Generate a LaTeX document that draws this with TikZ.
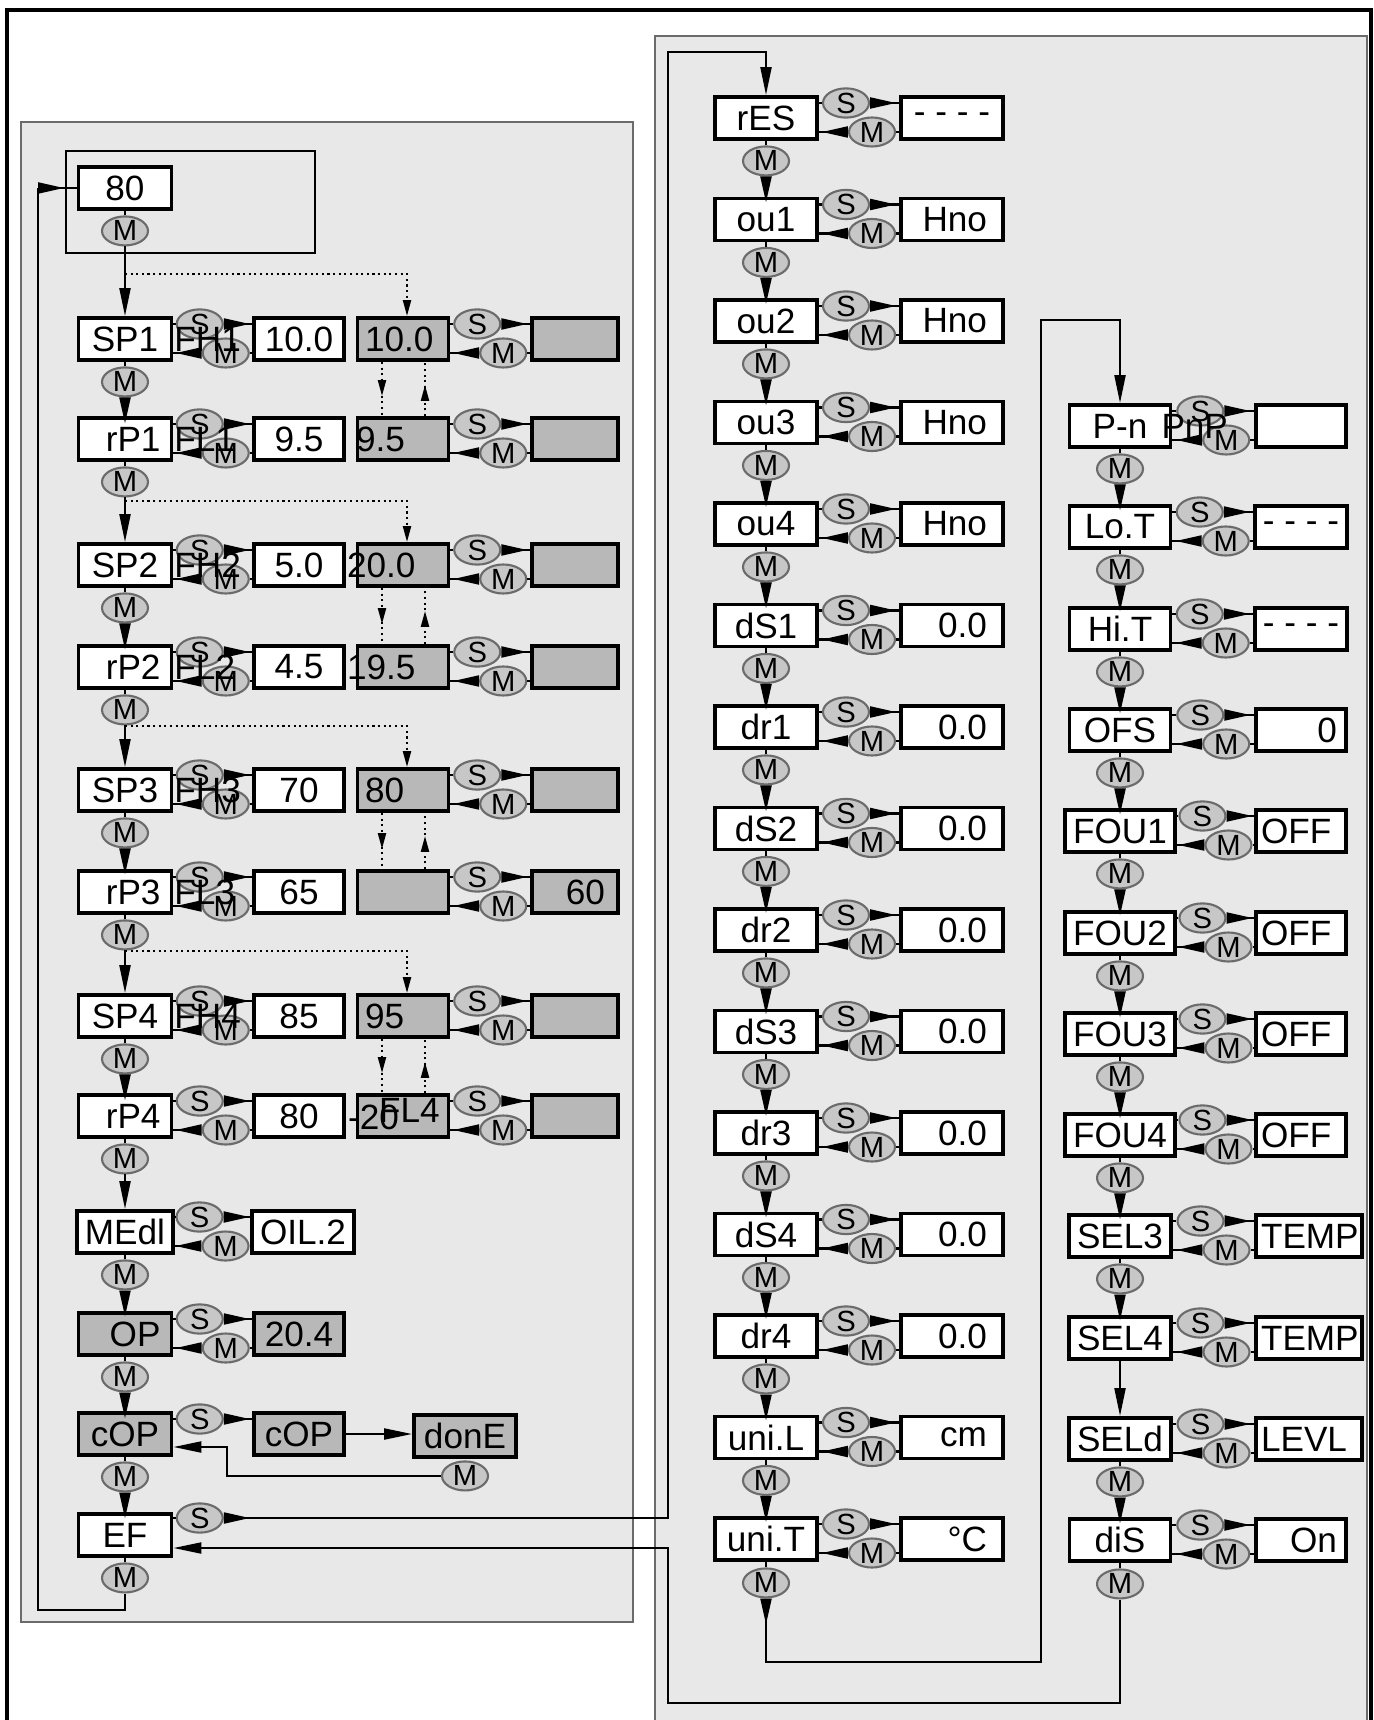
\documentclass[tikz,border=0pt]{standalone}
\usepackage{fontspec}
\setmainfont{Liberation Sans}
\usetikzlibrary{arrows.meta,calc,shapes.geometric}

\definecolor{panel}{gray}{0.91}
\definecolor{shade}{gray}{0.72}
\definecolor{knob}{gray}{0.78}
\definecolor{rim}{gray}{0.42}

\tikzset{
  box/.style={draw, line width=1.1pt, fill=white, minimum height=4.2mm, inner ysep=0.5mm,
    inner xsep=0.8mm, font=\fontsize{10}{11}\selectfont},
  txt/.style={inner sep=0pt, font=\fontsize{10}{11}\selectfont},
  pbox/.style={box, minimum width=9.3mm},
  rlab/.style={text width=7.1mm, align=right, inner xsep=1.1mm},
  lval/.style={box, minimum width=9mm},
  ga/.style={box, fill=shade, minimum width=9.1mm},
  gb/.style={box, fill=shade, minimum width=8.6mm},
  abox/.style={box, minimum width=10.2mm},
  aval/.style={box, text width=7mm, align=right, inner xsep=1.6mm},
  bbox/.style={box, minimum width=10.1mm},
  bval/.style={box, minimum width=9mm},
  bl/.style={box, text width=8mm, align=left, inner xsep=0.5mm},
  br/.style={box, text width=7.2mm, align=right, inner xsep=0.9mm},
  btn/.style={ellipse, draw=rim, line width=0.6pt, fill=knob, minimum width=4.6mm,
    minimum height=2.9mm, inner sep=0pt, font=\fontsize{8.3}{9}\selectfont},
  flow/.style={-{Triangle[length=2.8mm,width=1.1mm]}},
  lead/.style={{Triangle[reversed,length=2.6mm,width=1.1mm]}-},
  leadflow/.style={{Triangle[reversed,length=2.6mm,width=1.1mm]}-{Triangle[length=2.8mm,width=1.1mm]}},
  dflow/.style={densely dotted, -{Triangle[length=1.6mm,width=0.8mm]}},
}

\newcommand{\smpair}[2]{%
  \coordinate (#1-c) at ($(#1.east)!0.5!(#2.west)$);
  \node[btn] (#1-s) at ($(#1-c)+(-13,-15)$) {S};
  \node[btn] (#1-m) at ($(#1-c)+(13,14)$) {M};
  \draw (#1.east |- #1-s) -- (#1-s.west);
  \draw[lead] (#1-s.east) -- (#2.west |- #1-s);
  \draw (#2.west |- #1-m) -- (#1-m.east);
  \draw[lead] (#1-m.west) -- (#1.east |- #1-m);
}
\newcommand{\mstep}[3][lead]{%
  \node[btn] (#2-d) at ($(#2.south)+(0,20)$) {M};
  \draw (#2.south) -- (#2-d.north);
  \draw[#1] (#2-d.south) -- (#2-d.south |- #3.north);
}
\newcommand{\hold}[2]{%
  \draw[densely dotted] ($(#1.south)+(-21,0)$) -- ($(#2.north)+(-21,0)$);
  \draw[dflow, shorten >=2mm] ($(#1.south)+(-21,0)$) -- ($(#2.north)+(-21,0)$);
  \draw[densely dotted] ($(#2.north)+(22,0)$) -- ($(#1.south)+(22,0)$);
  \draw[dflow, shorten >=2.3mm] ($(#2.north)+(22,0)$) -- ($(#1.south)+(22,0)$);
}

\begin{document}
\begin{tikzpicture}[x=0.1mm, y=-0.1mm, line width=0.6pt]
  \clip (0,0) rectangle (1373,1720);
  \fill[white] (0,0) rectangle (1373,1720);
  \draw[line width=1.3pt] (7,1740) |- (1371,10) -- (1371,1740);
  \filldraw[fill=panel, draw=rim, line width=0.8pt] (21,122) rectangle (633,1622);
  \filldraw[fill=panel, draw=rim, line width=0.8pt] (655,36) rectangle (1367,1740);
  \draw[line width=0.8pt] (66,151) rectangle (315,253);

  \node[pbox] (top) at (125,188) {80};
  \node[pbox] (sp1) at (125,339) {SP1};
  \node[pbox, rlab] (rp1) at (125,439) {rP1};
  \node[pbox] (sp2) at (125,565) {SP2};
  \node[pbox, rlab] (rp2) at (125,667) {rP2};
  \node[pbox] (sp3) at (125,790) {SP3};
  \node[pbox, rlab] (rp3) at (125,892) {rP3};
  \node[pbox] (sp4) at (125,1016) {SP4};
  \node[pbox, rlab] (rp4) at (125,1116) {rP4};
  \node[pbox] (medi) at (125,1232) {MEdl};
  \node[pbox, rlab, fill=shade] (op) at (125,1334) {OP};
  \node[pbox, fill=shade] (cop) at (125,1434) {cOP};
  \node[pbox] (ef) at (125,1535) {EF};

  \node[lval] (sp1v) at (299,339) {10.0};
  \node[lval] (rp1v) at (299,439) {9.5};
  \node[lval] (sp2v) at (299,565) {5.0};
  \node[lval] (rp2v) at (299,667) {4.5};
  \node[lval] (sp3v) at (299,790) {70};
  \node[lval] (rp3v) at (299,892) {65};
  \node[lval] (sp4v) at (299,1016) {85};
  \node[lval] (rp4v) at (299,1116) {80};
  \node[lval, minimum width=9.8mm] (mediv) at (303,1232) {OIL.2};
  \node[lval, fill=shade] (opv) at (299,1334) {20.4};
  \node[lval, fill=shade] (copv) at (299,1434) {cOP};
  \node[box, fill=shade, minimum width=10.2mm] (done) at (465,1436) {donE};

  \node[ga] (sp1a) at (403,339) {};
  \node[ga] (rp1a) at (403,439) {};
  \node[ga] (sp2a) at (403,565) {};
  \node[ga] (rp2a) at (403,667) {};
  \node[ga] (sp3a) at (403,790) {};
  \node[ga] (rp3a) at (403,892) {};
  \node[ga] (sp4a) at (403,1016) {};
  \node[ga] (rp4a) at (403,1116) {};
  \node[gb] (sp1b) at (575,339) {};
  \node[gb] (rp1b) at (575,439) {};
  \node[gb] (sp2b) at (575,565) {};
  \node[gb] (rp2b) at (575,667) {};
  \node[gb] (sp3b) at (575,790) {};
  \node[gb, text width=6mm, align=right] (rp3b) at (575,892) {60};
  \node[gb] (sp4b) at (575,1016) {};
  \node[gb] (rp4b) at (575,1116) {};

  \node[abox] (res) at (766,118) {rES};
  \node[abox] (ou1) at (766,219.5) {ou1};
  \node[abox] (ou2) at (766,321) {ou2};
  \node[abox] (ou3) at (766,422.5) {ou3};
  \node[abox] (ou4) at (766,524) {ou4};
  \node[abox] (ds1) at (766,625.5) {dS1};
  \node[abox] (dr1) at (766,727) {dr1};
  \node[abox] (ds2) at (766,828.5) {dS2};
  \node[abox] (dr2) at (766,930) {dr2};
  \node[abox] (ds3) at (766,1031.5) {dS3};
  \node[abox] (dr3) at (766,1133) {dr3};
  \node[abox] (ds4) at (766,1234.5) {dS4};
  \node[abox] (dr4) at (766,1336) {dr4};
  \node[abox] (unil) at (766,1437.5) {uni.L};
  \node[abox] (unit) at (766,1539) {uni.T};

  \node[abox] (resv) at (952,118) {- - - -};
  \node[aval] (ou1v) at (952,219.5) {Hno};
  \node[aval] (ou2v) at (952,321) {Hno};
  \node[aval] (ou3v) at (952,422.5) {Hno};
  \node[aval] (ou4v) at (952,524) {Hno};
  \node[aval] (ds1v) at (952,625.5) {0.0};
  \node[aval] (dr1v) at (952,727) {0.0};
  \node[aval] (ds2v) at (952,828.5) {0.0};
  \node[aval] (dr2v) at (952,930) {0.0};
  \node[aval] (ds3v) at (952,1031.5) {0.0};
  \node[aval] (dr3v) at (952,1133) {0.0};
  \node[aval] (ds4v) at (952,1234.5) {0.0};
  \node[aval] (dr4v) at (952,1336) {0.0};
  \node[aval] (unilv) at (952,1437.5) {cm};
  \node[aval] (unitv) at (952,1539) {°C};

  \node[bbox] (pn) at (1120,426) {P-n};
  \node[bbox] (lot) at (1120,527) {Lo.T};
  \node[bbox] (hit) at (1120,629) {Hi.T};
  \node[bbox] (ofs) at (1120,730) {OFS};
  \node[bbox] (fou1) at (1120,831) {FOU1};
  \node[bbox] (fou2) at (1120,933) {FOU2};
  \node[bbox] (fou3) at (1120,1034) {FOU3};
  \node[bbox] (fou4) at (1120,1135) {FOU4};
  \node[bbox] (sel3) at (1120,1236) {SEL3};
  \node[bbox] (sel4) at (1120,1338) {SEL4};
  \node[bbox] (seld) at (1120,1439) {SELd};
  \node[bbox] (dis) at (1120,1540) {diS};

  \node[bval] (pnv) at (1301,426) {};
  \node[bval] (lotv) at (1301,527) {- - - -};
  \node[bval] (hitv) at (1301,629) {- - - -};
  \node[br] (ofsv) at (1301,730) {0};
  \node[bl] (fou1v) at (1301,831) {OFF};
  \node[bl] (fou2v) at (1301,933) {OFF};
  \node[bl] (fou3v) at (1301,1034) {OFF};
  \node[bl] (fou4v) at (1301,1135) {OFF};
  \node[bl, text width=9.6mm] (sel3v) at (1309,1236) {TEMP};
  \node[bl, text width=9.6mm] (sel4v) at (1309,1338) {TEMP};
  \node[bl, text width=9.6mm] (seldv) at (1309,1439) {LEVL};
  \node[br] (disv) at (1301,1540) {On};

  \smpair{sp1}{sp1v} \smpair{sp1a}{sp1b}
  \smpair{rp1}{rp1v} \smpair{rp1a}{rp1b}
  \smpair{sp2}{sp2v} \smpair{sp2a}{sp2b}
  \smpair{rp2}{rp2v} \smpair{rp2a}{rp2b}
  \smpair{sp3}{sp3v} \smpair{sp3a}{sp3b}
  \smpair{rp3}{rp3v} \smpair{rp3a}{rp3b}
  \smpair{sp4}{sp4v} \smpair{sp4a}{sp4b}
  \smpair{rp4}{rp4v} \smpair{rp4a}{rp4b}
  \smpair{medi}{mediv}
  \smpair{op}{opv}

  \smpair{res}{resv} \smpair{ou1}{ou1v} \smpair{ou2}{ou2v} \smpair{ou3}{ou3v}
  \smpair{ou4}{ou4v} \smpair{ds1}{ds1v} \smpair{dr1}{dr1v} \smpair{ds2}{ds2v}
  \smpair{dr2}{dr2v} \smpair{ds3}{ds3v} \smpair{dr3}{dr3v} \smpair{ds4}{ds4v}
  \smpair{dr4}{dr4v} \smpair{unil}{unilv} \smpair{unit}{unitv}

  \smpair{pn}{pnv} \smpair{lot}{lotv} \smpair{hit}{hitv} \smpair{ofs}{ofsv}
  \smpair{fou1}{fou1v} \smpair{fou2}{fou2v} \smpair{fou3}{fou3v} \smpair{fou4}{fou4v}
  \smpair{sel3}{sel3v} \smpair{sel4}{sel4v} \smpair{seld}{seldv} \smpair{dis}{disv}

  \mstep[flow]{top}{sp1}
  \mstep{sp1}{rp1}
  \mstep[flow]{rp1}{sp2}
  \mstep{sp2}{rp2}
  \mstep[flow]{rp2}{sp3}
  \mstep{sp3}{rp3}
  \mstep[flow]{rp3}{sp4}
  \mstep{sp4}{rp4}
  \mstep[flow]{rp4}{medi}
  \mstep{medi}{op}
  \mstep{op}{cop}
  \mstep{cop}{ef}

  \draw[dflow] ($(sp1.north)+(0,-42)$) -| ($(sp1a.north)+(4,0)$);
  \draw[dflow] ($(sp2.north)+(0,-41)$) -| ($(sp2a.north)+(4,0)$);
  \draw[dflow] ($(sp3.north)+(0,-41)$) -| ($(sp3a.north)+(4,0)$);
  \draw[dflow] ($(sp4.north)+(0,-42)$) -| ($(sp4a.north)+(4,0)$);
  \hold{sp1a}{rp1a}
  \hold{sp2a}{rp2a}
  \hold{sp3a}{rp3a}
  \hold{sp4a}{rp4a}

  \node[btn] (cop-s) at ($(cop.east)!0.5!(copv.west)+(-13,-15)$) {S};
  \draw (cop.east |- cop-s) -- (cop-s.west);
  \draw[lead] (cop-s.east) -- (copv.west |- cop-s);
  \draw[flow] (copv.east) -- (done.west |- copv.east);
  \node[btn] (done-d) at ($(done.south)+(0,17)$) {M};
  \coordinate (turn) at (227,1447);
  \draw[flow] (done-d.west) -| (turn) -- (cop.east |- turn);

  \node[btn] (ef-s) at ($(ef.east)!0.5!(copv.west |- ef.east)+(-13,-17)$) {S};
  \node[btn] (ef-d) at ($(ef.south)+(0,20)$) {M};
  \draw (ef.east |- ef-s) -- (ef-s.west);
  \draw (ef.south) -- (ef-d.north);
  \coordinate (rise) at (668,52);
  \draw[leadflow] (ef-s.east) -| (rise) -| (res.north);
  \coordinate (floor) at (38,1610);
  \coordinate (back) at (38,188);
  \draw (ef-d.south) |- (floor) -- (back);
  \draw[lead] (back) -- (top.west);

  \mstep{res}{ou1} \mstep{ou1}{ou2} \mstep{ou2}{ou3} \mstep{ou3}{ou4}
  \mstep{ou4}{ds1} \mstep{ds1}{dr1} \mstep{dr1}{ds2} \mstep{ds2}{dr2}
  \mstep{dr2}{ds3} \mstep{ds3}{dr3} \mstep{dr3}{ds4} \mstep{ds4}{dr4}
  \mstep{dr4}{unil} \mstep{unil}{unit}

  \mstep{pn}{lot} \mstep{lot}{hit} \mstep{hit}{ofs} \mstep{ofs}{fou1}
  \mstep{fou1}{fou2} \mstep{fou2}{fou3} \mstep{fou3}{fou4} \mstep{fou4}{sel3}
  \mstep{sel3}{sel4} \mstep{seld}{dis}
  \draw[flow] (sel4.south) -- (seld.north);

  \node[btn] (unit-d) at ($(unit.south)+(0,21)$) {M};
  \draw (unit.south) -- (unit-d.north);
  \coordinate (bend1) at (1041,1662);
  \coordinate (bend2) at (1041,320);
  \draw[leadflow] (unit-d.south) |- (bend1) -- (bend2) -| (pn.north);

  \node[btn] (dis-d) at ($(dis.south)+(0,21)$) {M};
  \draw (dis.south) -- (dis-d.north);
  \coordinate (low) at (668,1703);
  \coordinate (efin) at ($(ef.east)+(0,13)$);
  \draw[flow] (dis-d.south) |- (low) |- (efin);

  \node[txt, anchor=west] (sp1x) at (sp1.east) {FH1};
  \node[txt, anchor=west] (rp1x) at (rp1.east) {FL1};
  \node[txt, anchor=west] (sp2x) at (sp2.east) {FH2};
  \node[txt, anchor=west] (rp2x) at (rp2.east) {FL2};
  \node[txt, anchor=west] (sp3x) at (sp3.east) {FH3};
  \node[txt, anchor=west] (rp3x) at (rp3.east) {FL3};
  \node[txt, anchor=west] (sp4x) at (sp4.east) {FH4};
  \node[txt, anchor=west] (sp1t) at (364,339) {10.0};
  \node[txt, anchor=west] (rp1t) at (355,439) {9.5};
  \node[txt, anchor=west] (sp2t) at (346,565) {20.0};
  \node[txt, anchor=west] (rp2t) at (346,667) {19.5};
  \node[txt, anchor=west] (sp3t) at (364,790) {80};
  \node[txt, anchor=west] (sp4t) at (364,1016) {95};
  \node[txt, anchor=west] (rp4t) at (347,1117) {-20};
  \node[txt, anchor=west] (rp4x) at (378,1110) {FL4};
  \node[txt, anchor=west] (pnx) at ($(pn.east)+(-12,0)$) {PnP};
\end{tikzpicture}
\end{document}
